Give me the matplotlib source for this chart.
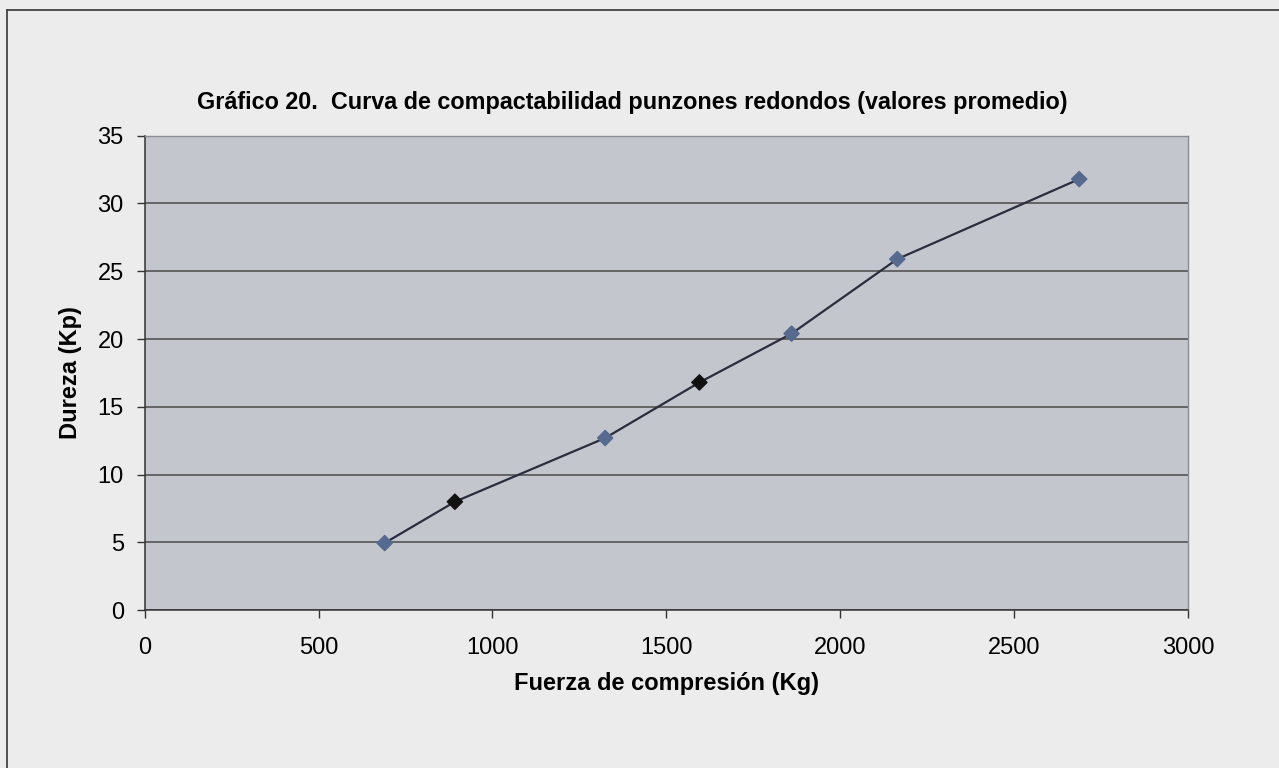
import matplotlib

matplotlib.use("Agg")
import matplotlib.pyplot as plt
from matplotlib.lines import Line2D

plt.rcParams["font.family"] = ["Liberation Sans", "DejaVu Sans"]

# average compaction data, round punches
fuerza_kg = [690, 892, 1324, 1595, 1860, 2164, 2687]
dureza_kp = [4.95, 8.0, 12.7, 16.8, 20.4, 25.9, 31.8]
marker_colors = ["#56698f", "#111111", "#56698f", "#111111", "#56698f", "#56698f", "#56698f"]

x_ticks = [0, 500, 1000, 1500, 2000, 2500, 3000]
y_ticks = [0, 5, 10, 15, 20, 25, 30, 35]

title = "Gráfico 20.  Curva de compactabilidad punzones redondos (valores promedio)"
x_label = "Fuerza de compresión (Kg)"
y_label = "Dureza (Kp)"

fig = plt.figure(figsize=(12.79, 7.68), dpi=100)
fig.patch.set_facecolor("#ececec")
ax = fig.add_axes([0.1131, 0.2055, 0.8158, 0.6178])
ax.set_facecolor("#c3c6cd")

ax.set_xlim(0, 3000)
ax.set_ylim(0, 35)
ax.set_xticks(x_ticks)
ax.set_yticks(y_ticks)
ax.tick_params(axis="both", labelsize=17, length=6, width=1, color="#333333")
ax.tick_params(axis="x", pad=13)
ax.tick_params(axis="y", pad=9)

ax.yaxis.grid(True, color="#4a4a4a", linewidth=1.1)
ax.set_axisbelow(True)
for side in ["left", "bottom"]:
    ax.spines[side].set_color("#333333")
    ax.spines[side].set_linewidth(1.1)
for side in ["top", "right"]:
    ax.spines[side].set_color("#8a8c92")
    ax.spines[side].set_linewidth(1.0)

ax.plot(fuerza_kg, dureza_kp, color="#2a2d3c", linewidth=1.6, zorder=3)
ax.scatter(fuerza_kg, dureza_kp, marker="D", s=60, c=marker_colors, zorder=4)

ax.set_xlabel(x_label, fontsize=17, fontweight="bold")
ax.xaxis.set_label_coords(0.5, -0.1535)
ax.set_ylabel(y_label, fontsize=17, fontweight="bold")
ax.yaxis.set_label_coords(-0.071, 0.5)
ax.xaxis.label.set_va("center")
ax.yaxis.label.set_va("center")
fig.text(0.4945, 0.866, title, fontsize=16.8, fontweight="bold", ha="center", va="center")

# frame lines around the sheet
fig.add_artist(Line2D([7 / 1279, 7 / 1279], [0, 1 - 10 / 768], color="#444444", linewidth=1.3))
fig.add_artist(Line2D([7 / 1279, 1], [1 - 10 / 768, 1 - 10 / 768], color="#444444", linewidth=1.3))

fig.savefig("out.png", dpi=100, facecolor=fig.get_facecolor())
